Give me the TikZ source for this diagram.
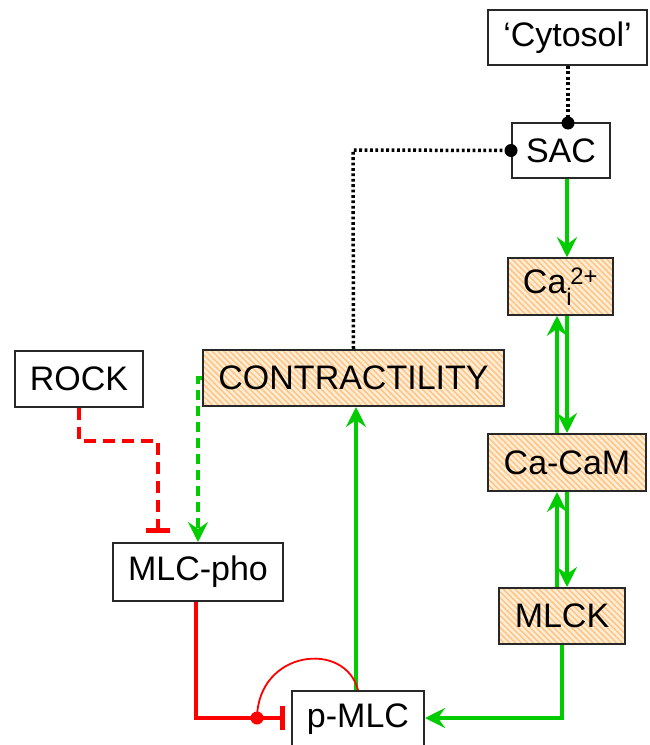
\documentclass[tikz,border=0pt]{standalone}
\usepackage{fontspec}
\setmainfont{Liberation Sans}
\usetikzlibrary{arrows.meta,patterns.meta,calc}
\definecolor{gr}{RGB}{0,204,0}
\definecolor{rd}{RGB}{255,0,0}
\definecolor{peach}{RGB}{255,238,215}
\definecolor{hatch}{RGB}{255,195,130}
\definecolor{bord}{RGB}{40,40,40}
\tikzset{
  box/.style={draw=bord, line width=2pt, inner sep=0pt, fill=white,
    font=\fontsize{34}{40}\selectfont},
  hbox/.style={box, fill=none, preaction={fill=peach},
    pattern={Lines[angle=-45,distance=4.2pt,line width=1.5pt]}, pattern color=hatch},
  garr/.style={draw=gr, line width=3.6pt, -{Stealth[length=20pt,width=20pt,inset=7pt]}},
  gdash/.style={garr, dash pattern=on 10pt off 6pt},
  rinh/.style={draw=rd, line width=3.6pt, -{Bar[width=24pt,line width=5pt]}},
  rdash/.style={rinh, dash pattern=on 12pt off 7pt},
  dotl/.style={draw=black, line width=3.5pt, dash pattern=on 2.8pt off 2.6pt},
  bdot/.style={circle, fill=black, inner sep=0pt, minimum size=13pt},
  rdot/.style={circle, fill=rd, inner sep=0pt, minimum size=13pt}
}
\begin{document}
\begin{tikzpicture}[x=1pt,y=-1pt]
\useasboundingbox (0,0) rectangle (649,745);
\clip (0,0) rectangle (649,745);
% nodes
\node[box, minimum width=159pt, minimum height=55pt] (cyto) at (567.5,37.5) {‘Cytosol’};
\node[box, minimum width=98pt, minimum height=55pt] (sac) at (561,150.5) {SAC};
\node[hbox, minimum width=105pt, minimum height=57pt] (ca) at (560.5,286.5) {Ca\rlap{\raisebox{-0.1em}{\textsubscript{i}}}\textsuperscript{\,2+}};
\node[hbox, minimum width=158pt, minimum height=57pt] (cacam) at (567,462.5) {Ca-CaM};
\node[hbox, minimum width=126pt, minimum height=56pt] (mlck) at (562,616) {MLCK};
\node[hbox, minimum width=301pt, minimum height=56pt] (contr) at (353.5,378) {CONTRACTILITY};
\node[box, minimum width=128pt, minimum height=56pt] (rock) at (79,379) {ROCK};
\node[box, minimum width=170pt, minimum height=58pt] (pho) at (198,572) {MLC-pho};
\node[box, minimum width=132pt, minimum height=57pt] (pmlc) at (358,719.5) {p-MLC};
% coordinates
\coordinate (sacdot) at (sac.west);
\coordinate (sactop) at (568,123);
\coordinate (bend1) at (353,150);
\coordinate (rbend1) at (79,441);
\coordinate (rbend2) at (158,441);
\coordinate (rend) at (158,533);
\coordinate (gbend) at (198,378);
\coordinate (rcorner) at (196,718);
\coordinate (rbarend) at (285,718);
\coordinate (arcdot) at (257,718);
\coordinate (gcorner) at (562,718);
% dotted black
\draw[dotl] (cyto.south -| sactop) -- (sactop);
\node[bdot] at (sactop) {};
\draw[dotl] (contr.north) -- (bend1) -- (sacdot);
\node[bdot] at (sacdot) {};
% green solid
\draw[garr] (sac.south -| 567,0) -- (ca.north -| 567,0);
\draw[garr] (ca.south -| 567,0) -- (cacam.north -| 567,0);
\draw[garr] (cacam.north -| 557,0) -- (ca.south -| 557,0);
\draw[garr] (cacam.south -| 567,0) -- (mlck.north -| 567,0);
\draw[garr] (mlck.north -| 557,0) -- (cacam.south -| 557,0);
\draw[garr] (mlck.south) -- (gcorner) -- (pmlc.east |- gcorner);
\draw[garr] (pmlc.north -| 356,0) -- (contr.south -| 356,0);
% green dashed
\draw[gdash] (contr.west) -- (gbend) -- (pho.north -| gbend);
% red
\draw[rdash] (rock.south) -- (rbend1) -- (rbend2) -- (rend);
\draw[rinh] (pho.south -| rcorner) -- (rcorner) -- (rbarend);
\draw[draw=rd, line width=1.8pt] (arcdot) .. controls (258,650) and (345,640) .. (pmlc.north -| 358,0);
\node[rdot] at (arcdot) {};
\end{tikzpicture}
\end{document}
